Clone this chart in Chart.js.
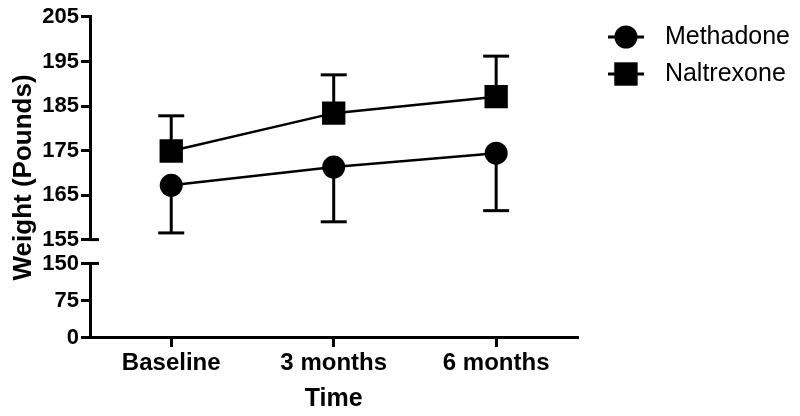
<!DOCTYPE html>
<html><head><meta charset="utf-8">
<script src="https://cdn.jsdelivr.net/npm/chart.js@4.4.1/dist/chart.umd.min.js"></script>
<style>html,body{margin:0;padding:0;background:#fff;}</style>
</head><body>
<canvas id="c" width="800" height="416"></canvas>
<script>
const categories = ['Baseline', '3 months', '6 months'];
const methadone = [167.2, 171.3, 174.4];
const methadoneErrLow = [10.7, 12.3, 12.9];
const naltrexone = [174.9, 183.4, 187.1];
const naltrexoneErrHigh = [7.9, 8.6, 9.1];
const upperTicks = [155, 165, 175, 185, 195, 205];
const lowerTicks = [0, 75, 150];
const seriesNames = ['Methadone', 'Naltrexone'];

const F = "'Liberation Sans', Arial, sans-serif";
const BLACK = '#000';

function makeIcon(kind) {
  const cv = document.createElement('canvas');
  cv.width = 36; cv.height = 26;
  const g = cv.getContext('2d');
  g.fillStyle = BLACK; g.strokeStyle = BLACK; g.lineWidth = 3;
  g.beginPath(); g.moveTo(0, 13); g.lineTo(36, 13); g.stroke();
  if (kind === 'circle') { g.beginPath(); g.arc(18, 13, 11.5, 0, Math.PI * 2); g.fill(); }
  else { g.fillRect(18 - 11.7, 13 - 11.7, 23.4, 23.4); }
  return cv;
}
const legendIcons = [makeIcon('circle'), makeIcon('rect')];

const errorBars = {
  id: 'errorBars',
  afterDatasetsDraw(chart) {
    const ctx = chart.ctx, xs = chart.scales.x, ys = chart.scales.y;
    ctx.save();
    ctx.strokeStyle = BLACK; ctx.lineWidth = 3;
    const seg = (x1, y1, x2, y2) => { ctx.beginPath(); ctx.moveTo(x1, y1); ctx.lineTo(x2, y2); ctx.stroke(); };
    const draw = (vals, errs, dir) => vals.forEach((v, i) => {
      const px = xs.getPixelForValue(i);
      const p0 = ys.getPixelForValue(v);
      const p1 = ys.getPixelForValue(v + dir * errs[i]);
      seg(px, p0, px, p1);
      seg(px - 13, p1, px + 13, p1);
    });
    draw(methadone, methadoneErrLow, -1);
    draw(naltrexone, naltrexoneErrHigh, 1);
    // axis break marks
    const yl = chart.scales.yLow;
    const ax = ys.right;
    seg(ax - 1, ys.getPixelForValue(155), ax + 9, ys.getPixelForValue(155));
    seg(ax - 1, yl.getPixelForValue(150), ax + 9, yl.getPixelForValue(150));
    ctx.restore();
  }
};

const hidden = {
  grid: { display: false }, border: { display: false }, ticks: { display: false }
};

new Chart(document.getElementById('c'), {
  type: 'line',
  data: {
    labels: categories,
    datasets: [
      { label: seriesNames[0], data: methadone, yAxisID: 'y', borderColor: BLACK, backgroundColor: BLACK,
        borderWidth: 2.5, pointStyle: 'circle', pointRadius: 11.5, pointBorderWidth: 0,
        pointBackgroundColor: BLACK, tension: 0, fill: false },
      { label: seriesNames[1], data: naltrexone, yAxisID: 'y', borderColor: BLACK, backgroundColor: BLACK,
        borderWidth: 2.5, pointStyle: 'rect', pointRadius: 16.5, pointBorderWidth: 0,
        pointBackgroundColor: BLACK, tension: 0, fill: false }
    ]
  },
  options: {
    responsive: false,
    animation: false,
    events: [],
    layout: { padding: { left: 5, top: 12.5, right: 0, bottom: 0 } },
    plugins: {
      tooltip: { enabled: false },
      legend: {
        position: 'right', align: 'start', maxWidth: 260,
        labels: {
          usePointStyle: true, pointStyleWidth: 53, padding: 12, color: BLACK,
          font: { family: F, size: 25 },
          generateLabels(chart) {
            const items = Chart.defaults.plugins.legend.labels.generateLabels(chart);
            items.forEach((it, i) => { it.pointStyle = legendIcons[i]; });
            return items;
          }
        }
      }
    },
    scales: {
      x: {
        type: 'category', position: 'bottom', offset: true,
        grid: { display: true, drawOnChartArea: false, drawTicks: true, tickLength: 9, offset: false, color: BLACK, lineWidth: 3 },
        border: { display: true, color: BLACK, width: 3 },
        ticks: { color: BLACK, font: { family: F, size: 24, weight: 'bold' }, padding: 2, maxRotation: 0, autoSkip: false },
        title: { display: true, text: 'Time', color: BLACK, font: { family: F, size: 25, weight: 'bold' }, padding: { top: 0, bottom: 2 } },
        afterFit: s => { s.height = 78; }
      },
      yTitle: Object.assign({
        type: 'linear', position: 'left', weight: 10, min: 0, max: 1,
        title: { display: true, text: 'Weight (Pounds)', color: BLACK, font: { family: F, size: 26, weight: 'bold' }, padding: { top: 3, bottom: 0 } },
        afterFit: s => { s.width = 37; }
      }, hidden),
      y: {
        type: 'linear', position: 'left', stack: 'w', stackWeight: 224, weight: 3, min: 155, max: 205,
        afterBuildTicks: s => { s.ticks = upperTicks.map(v => ({ value: v })); },
        grid: { display: true, drawOnChartArea: false, tickLength: 9, color: BLACK, lineWidth: 3 },
        border: { display: true, color: BLACK, width: 3 },
        ticks: { color: BLACK, font: { family: F, size: 22, weight: 'bold', lineHeight: 1.36 }, padding: 2, autoSkip: false },
        afterFit: s => { s.width = 48; }
      },
      yGap: Object.assign({
        type: 'linear', position: 'left', stack: 'w', stackWeight: 24, weight: 2, min: 0, max: 1,
        afterFit: s => { s.width = 48; }
      }, hidden),
      yLow: {
        type: 'linear', position: 'left', stack: 'w', stackWeight: 75, weight: 1, min: 0, max: 150,
        afterBuildTicks: s => { s.ticks = lowerTicks.map(v => ({ value: v })); },
        grid: { display: true, drawOnChartArea: false, tickLength: 9, color: BLACK, lineWidth: 3 },
        border: { display: true, color: BLACK, width: 3 },
        ticks: { color: BLACK, font: { family: F, size: 22, weight: 'bold', lineHeight: 1.36 }, padding: 2, autoSkip: false },
        afterFit: s => { s.width = 48; }
      },
      yR: Object.assign({
        type: 'linear', position: 'right', weight: 0, min: 0, max: 1,
        afterFit: s => { s.width = 10; }
      }, hidden)
    }
  },
  plugins: [errorBars]
});
</script>
</body></html>
